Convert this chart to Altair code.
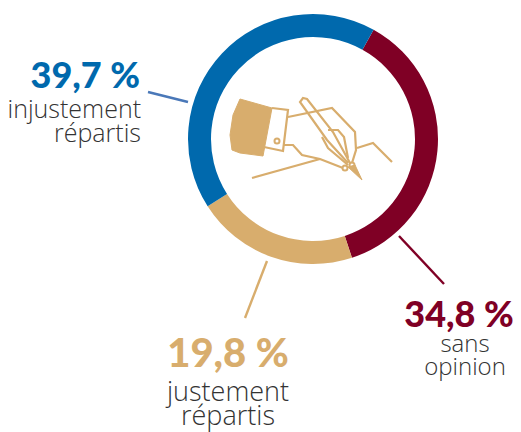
import math
import altair as alt
import pandas as pd

CATS = ["sans opinion", "justement répartis", "injustement répartis"]
VALUES = [34.8, 19.8, 39.7]
COLORS = ["#7f0025", "#d8ad6d", "#0069ad"]
LEADER_COLORS = ["#7f0025", "#d8ad6d", "#4a78b8"]

LEADERS = [
    [(399, 236), (444, 284)],
    [(267, 261), (245, 318)],
    [(148, 92), (188, 102)],
]
VALUE_LABELS = [("34,8 %", 459, 327, "center", 36), ("19,8 %", 228, 367, "center", 40), ("39,7 %", 140, 88, "right", 36)]
NAME_LINES = [
    ("sans", 465, 352, "center", 24), ("opinion", 465, 375, "center", 24),
    ("justement", 228, 401, "center", 27), ("répartis", 228, 425, "center", 27),
    ("injustement", 141, 118, "right", 25), ("répartis", 141, 142, "right", 25),
]
ICON_FILLS = [
    [(240, 99), (272, 108), (263, 156), (240, 153), (232, 150), (230, 135), (233, 115), (240, 99)],
    [(348, 167), (362, 180), (355, 165), (348, 167)],
]
ICON_LINES = [
    [(272, 108), (288, 110), (283, 151), (264, 147)],
    [(288, 117), (332, 108), (355, 132), (356, 150), (352, 163)],
    [(284, 145), (293, 145), (302, 155), (320, 159), (343, 168)],
    [(252, 178), (320, 159)],
    [(357, 148), (373, 143), (392, 162)],
    [(348, 163), (327, 140), (300, 102), (303, 98), (307, 99), (333, 132), (350, 163)],
    [(322, 137), (328, 148), (348, 165)],
    [(328, 130), (338, 130), (344, 137), (348, 158)],
]
ICON_RINGS = [(277, 141), (345, 168), (352, 165)]

W, H = 505, 424
X = alt.Scale(domain=[8, 8 + W], range=[0, W])
Y = alt.Scale(domain=[8, 8 + H], range=[0, H])
xe = alt.X("x:Q", scale=X, axis=None)
ye = alt.Y("y:Q", scale=Y, axis=None)
TAN = "#d8ad6d"
START = 29 * math.pi / 180

arc = alt.Chart(pd.DataFrame({"cat": CATS, "v": VALUES, "c": COLORS, "i": [0, 1, 2]})).mark_arc(
    outerRadius=125, innerRadius=102
).encode(
    theta=alt.Theta("v:Q", stack=True, scale=alt.Scale(range=[START, START + 2 * math.pi])),
    order=alt.Order("i:Q"),
    color=alt.Color("c:N", scale=None),
    x=alt.datum(313, scale=X, axis=None),
    y=alt.datum(139, scale=Y, axis=None),
)

leader_rows = [dict(x=p[0], y=p[1], k=i, c=LEADER_COLORS[i], o=j) for i, l in enumerate(LEADERS) for j, p in enumerate(l)]
leaders = alt.Chart(pd.DataFrame(leader_rows)).mark_line(strokeWidth=2.4).encode(
    x=xe, y=ye, detail="k:N", order="o:Q", color=alt.Color("c:N", scale=None)
)

icon_rows = [dict(x=p[0], y=p[1], k=i, o=j) for i, l in enumerate(ICON_LINES) for j, p in enumerate(l)]
icon = alt.Chart(pd.DataFrame(icon_rows)).mark_line(color=TAN, strokeWidth=2.2).encode(
    x=xe, y=ye, detail="k:N", order="o:Q"
)
fills = [
    alt.Chart(pd.DataFrame([dict(x=p[0], y=p[1], o=j) for j, p in enumerate(poly)])).mark_line(
        color=TAN, fill=TAN, strokeWidth=1
    ).encode(x=xe, y=ye, order="o:Q")
    for poly in ICON_FILLS
]
rings = alt.Chart(pd.DataFrame(ICON_RINGS, columns=["x", "y"])).mark_point(
    color=TAN, size=25, strokeWidth=2, filled=False, opacity=1
).encode(x=xe, y=ye)

layers = [arc, leaders, *fills, icon, rings]
for (t, x, y, al, fs), c in zip(VALUE_LABELS, COLORS):
    layers.append(alt.Chart(pd.DataFrame([dict(x=x, y=y, t=t)])).mark_text(
        font="Lato", fontWeight=900, fontSize=fs, color=c, align=al, baseline="alphabetic"
    ).encode(x=xe, y=ye, text="t:N"))
for t, x, y, al, fs in NAME_LINES:
    layers.append(alt.Chart(pd.DataFrame([dict(x=x, y=y, t=t)])).mark_text(
        font="Open Sans", fontWeight=300, fontSize=fs, color="#333333", align=al, baseline="alphabetic"
    ).encode(x=xe, y=ye, text="t:N"))

chart = alt.layer(*layers).properties(
    width=W, height=H, padding=0, autosize=alt.AutoSizeParams(type="none")
).configure_view(stroke=None)
chart.save("out.html", embed_options={"renderer": "svg", "actions": False})
